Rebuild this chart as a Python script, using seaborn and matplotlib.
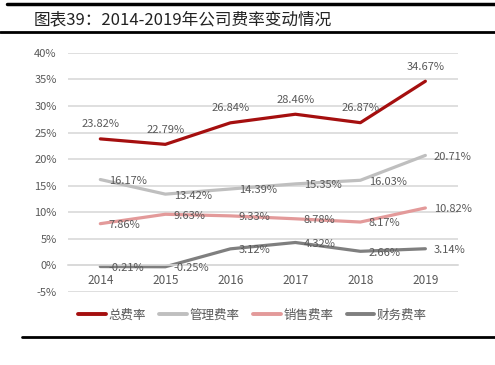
import numpy as np
import pandas as pd
import matplotlib
matplotlib.use("Agg")
import matplotlib.pyplot as plt
from matplotlib.lines import Line2D
import seaborn as sns

years = ["2014", "2015", "2016", "2017", "2018", "2019"]
total_rate = [23.82, 22.79, 26.84, 28.46, 26.87, 34.67]
admin_rate = [16.17, 13.42, 14.39, 15.35, 16.03, 20.71]
sales_rate = [7.86, 9.63, 9.33, 8.78, 8.17, 10.82]
finance_rate = [-0.21, -0.25, 3.12, 4.32, 2.66, 3.14]
series_names = ["总费率", "管理费率", "销售费率", "财务费率"]
colors = ["#a50f0f", "#bfbfbf", "#e39a9a", "#7f7f7f"]
y_ticks = [-5, 0, 5, 10, 15, 20, 25, 30, 35, 40]
title = "图表39：2014-2019年公司费率变动情况"

sns.set_style("white")
plt.rcParams['font.family'] = ['Noto Sans CJK SC', 'DejaVu Sans']
text_color = "#595959"

rows = []
for name, vals in zip(series_names, [total_rate, admin_rate, sales_rate, finance_rate]):
    for i, v in enumerate(vals):
        rows.append({"year": i, "rate": v, "series": name})
df = pd.DataFrame(rows)

fig = plt.figure(figsize=(4.95, 3.65), dpi=100)
ax = fig.add_axes([0.137, 0.2, 0.788, 0.655])

sns.lineplot(data=df, x="year", y="rate", hue="series", hue_order=series_names,
             palette=colors, linewidth=2.3, legend=False, ax=ax)

# data labels
for i, v in enumerate(total_rate):
    ax.annotate(f"{v:.2f}%", (i, v), xytext=(0, 7), textcoords="offset points",
                ha="center", va="bottom", fontsize=8, color=text_color)
for vals in [admin_rate, sales_rate, finance_rate]:
    for i, v in enumerate(vals):
        ax.annotate(f"{v:.2f}%", (i, v), xytext=(6, -1), textcoords="offset points",
                    ha="left", va="center", fontsize=8, color=text_color)

ax.set_xlim(-0.5, len(years) - 0.5)
ax.set_ylim(-5, 40)
ax.set_yticks(y_ticks)
ax.set_yticklabels([f"{t}%" for t in y_ticks])
ax.set_xticks(range(len(years)))
ax.set_xticklabels(years)
ax.set_xticks(np.arange(-0.5, len(years)), minor=True)
ax.tick_params(axis="x", which="major", length=0, pad=6, labelsize=8.5, labelcolor=text_color)
ax.tick_params(axis="x", which="minor", length=3, color="#d9d9d9", direction="out")
ax.tick_params(axis="y", length=0, pad=8, labelsize=8, labelcolor=text_color)
ax.set_xlabel("")
ax.set_ylabel("")
ax.yaxis.grid(True, color="#d9d9d9", linewidth=1.2)
ax.set_axisbelow(True)
for s in ["top", "right", "left"]:
    ax.spines[s].set_visible(False)
ax.spines["bottom"].set_position(("data", 0))
ax.spines["bottom"].set_color("#d9d9d9")
ax.spines["bottom"].set_linewidth(1.2)

handles = [Line2D([0], [0], color=c, linewidth=2.8) for c in colors]
fig.legend(handles, series_names, loc="center", bbox_to_anchor=(0.51, 0.137),
           ncol=4, frameon=False, fontsize=9, handlelength=2.2, handletextpad=0.2,
           columnspacing=1.1, labelcolor=text_color)

fig.text(0.067, 0.945, title, fontsize=12, color="#222222", va="center", ha="left")
fig.add_artist(Line2D([0.015, 1], [0.988, 0.988], color="black", linewidth=2.5))
fig.add_artist(Line2D([0, 1], [0.912, 0.912], color="black", linewidth=2))
fig.add_artist(Line2D([0.045, 1], [0.077, 0.077], color="black", linewidth=2))

fig.savefig("out.png", dpi=100)
